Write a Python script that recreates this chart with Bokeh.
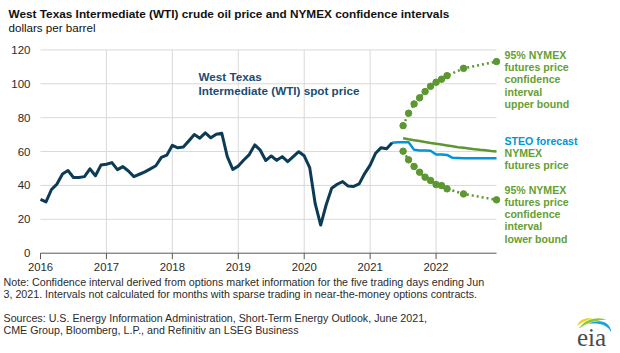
import numpy as np
from bokeh.plotting import figure
from bokeh.models import Range1d, Label, PolyAnnotation
from bokeh.core.properties import value
from bokeh.embed import file_html
from bokeh.resources import INLINE

# ---------------- data ----------------
year_ticks = [2016, 2017, 2018, 2019, 2020, 2021, 2022]
grid_years = [2017, 2018, 2019, 2020, 2021, 2022]
value_ticks = [0, 20, 40, 60, 80, 100, 120]

wti_first_month = "2016-01"
wti_spot = [
    31.7, 30.3, 37.6, 40.8, 46.7, 48.8, 44.7, 44.7, 45.2, 49.8, 45.7, 52.0,
    52.5, 53.5, 49.3, 51.1, 48.5, 45.2, 46.6, 48.0, 49.8, 51.6, 56.6, 57.9,
    63.7, 62.2, 62.7, 66.3, 70.0, 67.9, 71.0, 68.1, 70.2, 70.8, 57.0, 49.5,
    51.4, 55.0, 58.2, 63.9, 60.8, 54.7, 57.4, 54.8, 57.0, 54.0, 57.0, 59.9,
    57.5, 50.5, 29.2, 16.6, 28.6, 38.3, 40.7, 42.3, 39.6, 39.4, 40.9, 47.0,
    52.0, 59.0, 62.3, 61.7, 65.2,
]

steo_first_month = "2021-05"
steo_forecast = [
    65.2, 65.5, 65.5, 65.5, 61.0, 60.6, 60.6, 60.5,
    58.3, 58.2, 58.0, 56.3, 56.2, 56.1, 56.0, 56.0, 56.0, 56.0, 56.0, 56.0,
]

nymex_first_month = "2021-07"
nymex_futures = [
    67.8, 67.2, 66.7, 66.2, 65.6, 65.1,
    64.6, 64.1, 63.6, 63.1, 62.6, 62.2, 61.8, 61.4, 61.0, 60.7, 60.3, 60.0,
]

ci_months = ["2021-07", "2021-08", "2021-09", "2021-10", "2021-11", "2021-12",
             "2022-01", "2022-02", "2022-03", "2022-06", "2022-12"]
ci_upper = [75.3, 82.6, 88.1, 91.7, 95.4, 98.5, 100.9, 102.7, 104.8, 109.1, 113.1]
ci_lower = [60.2, 55.1, 51.2, 47.8, 44.9, 42.9, 40.5, 39.9, 38.0, 35.0, 31.5]


def dec(month):
    y, m = month.split("-")
    return int(y) + (int(m) - 1) / 12.0


def month_series(first, n):
    x0 = dec(first)
    return [x0 + i / 12.0 for i in range(n)]


# ---------------- layout (pixels) ----------------
W, H = 620, 353
PLOT_L, PLOT_R = 40.0, 496.0        # pixel x of first / last month
PLOT_T, PLOT_B = 49.4, 252.7        # pixel y of 120 / 0
X_FIRST, X_LAST = 2016.0, 2022 + 11 / 12
Y_MIN, Y_MAX = value_ticks[0], value_ticks[-1]
KX = (PLOT_R - PLOT_L) / (X_LAST - X_FIRST)
KY = (PLOT_B - PLOT_T) / (Y_MAX - Y_MIN)

x_range = Range1d(X_FIRST - PLOT_L / KX, X_FIRST + (W - PLOT_L) / KX)
y_range = Range1d(Y_MIN - (H - PLOT_B) / KY, Y_MAX + PLOT_T / KY)

# ---------------- styling ----------------
SANS = "Liberation Sans"
C_WTI = "#0c3b57"
C_WTI_TXT = "#1b4c72"
C_STEO = "#0096d7"
C_GREEN = "#5d9732"
C_GREEN_TXT = "#64a033"
C_TXT = "#2b2b2b"
C_AXIS = "#595959"
C_GRID = "#d9d9d9"

p = figure(width=W, height=H, output_backend="svg", toolbar_location=None,
           x_range=x_range, y_range=y_range, x_axis_type=None, y_axis_type=None,
           min_border=0)
p.outline_line_color = None
p.background_fill_color = "white"
p.border_fill_color = "white"

# gridlines
n_y = len(value_ticks) - 1
p.segment(x0=[X_FIRST] * n_y, x1=[X_LAST] * n_y, y0=value_ticks[1:], y1=value_ticks[1:],
          line_color=C_GRID, line_width=1)
p.segment(x0=grid_years, x1=grid_years, y0=[Y_MIN] * len(grid_years), y1=[Y_MAX] * len(grid_years),
          line_color=C_GRID, line_width=1)

# x axis line, ticks and labels
p.segment(x0=[X_FIRST], x1=[X_LAST], y0=[Y_MIN], y1=[Y_MIN], line_color=C_AXIS, line_width=1)
p.segment(x0=year_ticks, x1=year_ticks, y0=[Y_MIN] * len(year_ticks),
          y1=[Y_MIN - 6 / KY] * len(year_ticks), line_color=C_AXIS, line_width=1)
p.text(x=year_ticks, y=[Y_MIN - 13.5 / KY] * len(year_ticks), text=[str(y) for y in year_ticks],
       text_font=value(SANS), text_font_size="11.3px", text_color=C_TXT,
       text_align="center", text_baseline="middle")
# y labels
p.text(x=[X_FIRST - 10 / KX] * len(value_ticks), y=value_ticks, text=[str(v) for v in value_ticks],
       text_font=value(SANS), text_font_size="11.5px", text_color=C_TXT,
       text_align="right", text_baseline="middle")

# ---------------- data marks ----------------
ci_x = [dec(m) for m in ci_months]
p.line(ci_x, ci_upper, line_color=C_GREEN, line_width=2.5, line_dash="2 3")
p.line(ci_x, ci_lower, line_color=C_GREEN, line_width=2.5, line_dash="2 3")
p.scatter(ci_x, ci_upper, size=6.5, fill_color=C_GREEN, line_color=C_GREEN)
p.scatter(ci_x, ci_lower, size=6.5, fill_color=C_GREEN, line_color=C_GREEN)

p.line(month_series(nymex_first_month, len(nymex_futures)), nymex_futures,
       line_color=C_GREEN, line_width=2.5)
p.line(month_series(steo_first_month, len(steo_forecast)), steo_forecast,
       line_color=C_STEO, line_width=2.5)
p.line(month_series(wti_first_month, len(wti_spot)), wti_spot,
       line_color=C_WTI, line_width=3, line_join="round")


# ---------------- text ----------------
def lab(text, cx, cy, size, color, font=SANS, bold=False, align="left", baseline="middle"):
    p.add_layout(Label(x=cx, y=H - cy, x_units="screen", y_units="screen",
                       text=text, text_font=font, text_font_size=size,
                       text_font_style="bold" if bold else "normal",
                       text_color=color, text_baseline=baseline, text_align=align))


lab("West Texas Intermediate (WTI) crude oil price and NYMEX  confidence intervals",
    8, 13.7, "11.8px", "#111111", bold=True)
lab("dollars per barrel", 8, 26.5, "11.6px", "#111111")

lab("West Texas", 198, 76, "11.7px", C_WTI_TXT, bold=True)
lab("Intermediate (WTI) spot price", 198, 89.5, "11.7px", C_WTI_TXT, bold=True)

for i, t in enumerate(["95% NYMEX", "futures price", "confidence", "interval", "upper bound"]):
    lab(t, 504, 54.5 + 12.2 * i, "10.6px", C_GREEN_TXT, bold=True)
lab("STEO forecast", 504, 140, "10.6px", C_STEO, bold=True)
for i, t in enumerate(["NYMEX", "futures price"]):
    lab(t, 504, 152 + 12.4 * i, "10.6px", C_GREEN_TXT, bold=True)
for i, t in enumerate(["95% NYMEX", "futures price", "confidence", "interval", "lower bound"]):
    lab(t, 504, 189 + 12.3 * i, "10.6px", C_GREEN_TXT, bold=True)

lab("Note: Confidence interval derived from options market information for the five trading days ending Jun",
    3, 281.7, "10.7px", C_TXT)
lab("3, 2021. Intervals not calculated for months with sparse trading in near-the-money options contracts.",
    3, 293.5, "10.7px", C_TXT)
lab("Sources: U.S. Energy Information Administration, Short-Term Energy Outlook, June 2021,",
    3, 317.3, "10.7px", C_TXT)
lab("CME Group, Bloomberg, L.P., and Refinitiv an LSEG Business",
    3, 329.2, "10.7px", C_TXT)

# ---------------- eia logo ----------------
lab("eia", 591, 336.5, "25px", "#4a4a4a", font="Liberation Serif", align="center")


def swoosh(p0, c, p1, w0, w1, color):
    t = np.linspace(0, 1, 24)
    P0, C, P1 = np.array(p0), np.array(c), np.array(p1)
    pts = ((1 - t) ** 2)[:, None] * P0 + (2 * (1 - t) * t)[:, None] * C + (t ** 2)[:, None] * P1
    d = np.gradient(pts, axis=0)
    n = np.stack([-d[:, 1], d[:, 0]], axis=1)
    n /= np.linalg.norm(n, axis=1)[:, None]
    w = (w0 + (w1 - w0) * np.sin(np.pi * t)) / 2
    a = pts + n * w[:, None]
    b = pts - n * w[:, None]
    poly = np.vstack([a, b[::-1]])
    xs = [float(x) for x in poly[:, 0]]
    ys = [float(H - y) for y in poly[:, 1]]
    p.add_layout(PolyAnnotation(xs=xs, ys=ys, xs_units="screen", ys_units="screen",
                                fill_color=color, fill_alpha=1, line_color=None))


swoosh((577, 325), (581, 319), (591, 318), 0.5, 2.6, "#f2d21b")
swoosh((579, 327.5), (589, 317.5), (605, 319), 0.5, 3.0, "#8cc63f")
swoosh((589, 323), (606, 319), (610.5, 331), 0.5, 3.0, "#1aa3dc")

open("out.html", "w").write(file_html(p, INLINE))
